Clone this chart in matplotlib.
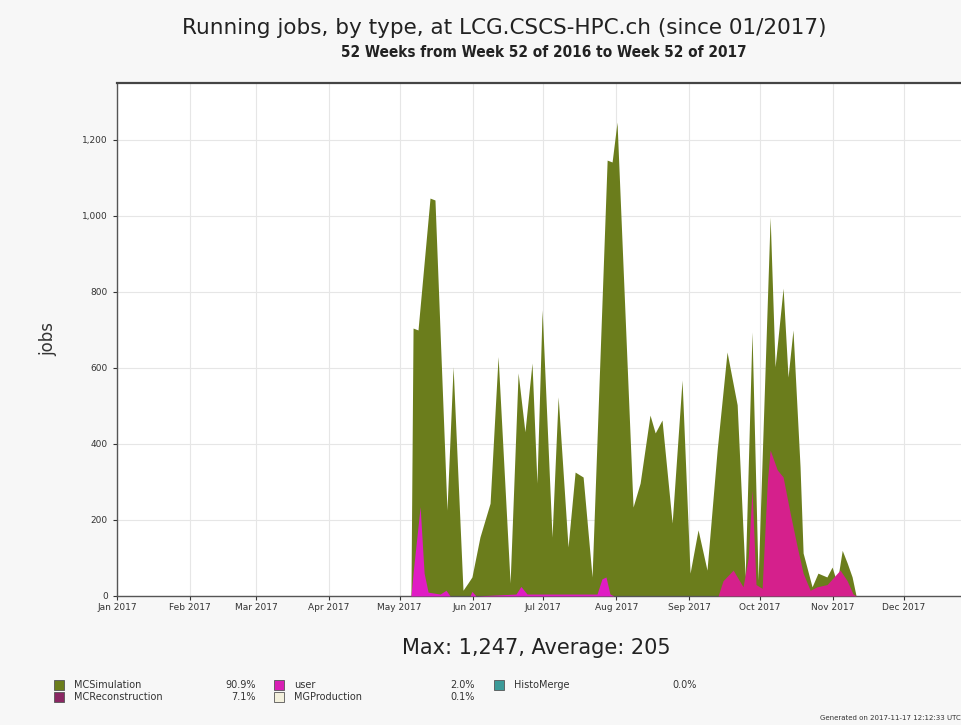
import datetime as dt
import matplotlib
matplotlib.use('Agg')
import matplotlib.pyplot as plt
import matplotlib.dates as mdates
import matplotlib.ticker as mticker
from matplotlib.patches import Rectangle

# day offsets from 1 Jan 2017 and values
total_days = [0, 124.8, 125.7, 127.8, 132.9, 135.0, 140.1, 142.7, 146.9, 149.0, 150.7,
              154.1, 158.4, 161.8, 166.9, 170.3, 173.2, 176.2, 178.3, 180.5, 184.7,
              187.3, 191.5, 194.5, 197.9, 201.7, 208.1, 210.2, 212.3, 219.1, 222.1,
              226.3, 228.5, 231.4, 235.7, 239.9, 243.3, 246.7, 250.5, 254.8, 259.0,
              263.3, 266.7, 269.6, 272.2, 277.3, 279.4, 282.8, 284.9, 287.0, 290.0,
              291.3, 295.1, 297.6, 301.4, 303.6, 305.7, 307.9, 310.0, 312.1, 313.8, 359]
total_jobs = [0, 0, 705, 700, 1047, 1042, 226, 603, 15, 34, 50,
              155, 244, 630, 34, 587, 432, 613, 297, 753, 155,
              524, 129, 326, 313, 50, 1147, 1142, 1247, 234, 297,
              476, 429, 463, 192, 568, 60, 174, 68, 384, 642,
              503, 50, 695, 42, 997, 603, 810, 576, 700, 340,
              113, 24, 60, 50, 76, 34, 120, 87, 50, 0, 0]

user_days = [0, 124.8, 125.7, 128.7, 130.4, 132.1, 137.2, 139.7, 141.4, 149.9, 150.7,
             152.4, 169.4, 171.5, 174.1, 203.8, 205.9, 207.6, 209.3, 211.0, 359]
user_jobs = [0, 0, 60, 235, 60, 10, 5, 15, 0, 0, 12,
             0, 5, 25, 5, 5, 45, 50, 5, 0, 0]

reco_days = [0, 255.2, 257.3, 261.6, 265.8, 268.0, 269.6, 271.3, 273.9, 276.1, 277.3,
             280.3, 282.8, 285.8, 288.8, 291.3, 294.3, 297.2, 301.5, 307.0, 310.0,
             312.5, 313.8, 359]
reco_jobs = [0, 0, 40, 68, 24, 100, 280, 30, 20, 300, 384,
             332, 313, 218, 129, 60, 15, 24, 30, 68, 40,
             5, 0, 0]

legend_names = ['MCSimulation', 'MCReconstruction', 'user', 'MGProduction', 'HistoMerge']
legend_pcts = ['90.9%', '7.1%', '2.0%', '0.1%', '0.0%']
legend_colors = ['#6b7d1c', '#8a2763', '#d81fb4', '#f3f0dc', '#3c9a98']

start = dt.datetime(2017, 1, 1)
def to_dates(days):
    return [start + dt.timedelta(days=d) for d in days]

fig = plt.figure(figsize=(9.62, 7.25), dpi=100)
fig.patch.set_facecolor('#f7f7f7')
ax = fig.add_axes([0.1216, 0.178, 0.879, 0.7076])
ax.set_facecolor('white')

ax.fill_between(to_dates(total_days), 0, total_jobs, color='#6b7d1c', linewidth=0, zorder=2)
ax.fill_between(to_dates(reco_days), 0, reco_jobs, color='#d5208c', linewidth=0, zorder=3)
ax.fill_between(to_dates(user_days), 0, user_jobs, color='#e01cc4', linewidth=0, zorder=3)

ax.set_xlim(start, start + dt.timedelta(days=359))
ax.set_ylim(0, 1350)

ax.xaxis.set_major_locator(mdates.MonthLocator())
ax.xaxis.set_major_formatter(mdates.DateFormatter('%b %Y'))
ax.yaxis.set_major_locator(mticker.MultipleLocator(200))
ax.yaxis.set_major_formatter(mticker.FuncFormatter(lambda v, p: f'{int(v):,}'))
ax.tick_params(axis='both', labelsize=6.5, colors='#333333', length=3, width=0.8)
ax.tick_params(axis='x', pad=2)

ax.grid(True, color='#e6e6e6', linewidth=0.8, zorder=0)
ax.set_axisbelow(True)
for side in ('left', 'bottom'):
    ax.spines[side].set_color('#555555')
    ax.spines[side].set_linewidth(1.0)
ax.spines['top'].set_color('#444444')
ax.spines['top'].set_linewidth(1.6)
ax.spines['right'].set_visible(False)

ax.set_ylabel('jobs', fontsize=12, color='#333333', labelpad=18)

fig.text(0.524, 0.961, 'Running jobs, by type, at LCG.CSCS-HPC.ch (since 01/2017)',
         ha='center', va='center', fontsize=15.5, color='#222222')
fig.text(0.565, 0.927, '52 Weeks from Week 52 of 2016 to Week 52 of 2017',
         ha='center', va='center', fontsize=11, fontweight='bold', color='#222222',
         fontstretch='condensed')
fig.text(0.558, 0.106, 'Max: 1,247, Average: 205', ha='center', va='center',
         fontsize=15, color='#222222')

# legend, three columns of two rows
col_x = [54, 274, 494]
pct_x = [256, 475, 697]
row_y = [685, 697]
for i, (name, pct, color) in enumerate(zip(legend_names, legend_pcts, legend_colors)):
    col, row = i // 2, i % 2
    x0, y0 = col_x[col], row_y[row]
    fig.add_artist(Rectangle((x0 / 962, 1 - (y0 + 5) / 725), 10 / 962, 10 / 725,
                             transform=fig.transFigure, facecolor=color,
                             edgecolor='#555555', linewidth=0.6))
    fig.text((x0 + 20) / 962, 1 - y0 / 725, name, ha='left', va='center',
             fontsize=7, color='#333333')
    fig.text(pct_x[col] / 962, 1 - y0 / 725, pct, ha='right', va='center',
             fontsize=7, color='#333333')

fig.text(0.999, 1 - 718 / 725, 'Generated on 2017-11-17 12:12:33 UTC', ha='right',
         va='center', fontsize=5, color='#333333')

fig.savefig('out.png', dpi=100, facecolor=fig.get_facecolor())
